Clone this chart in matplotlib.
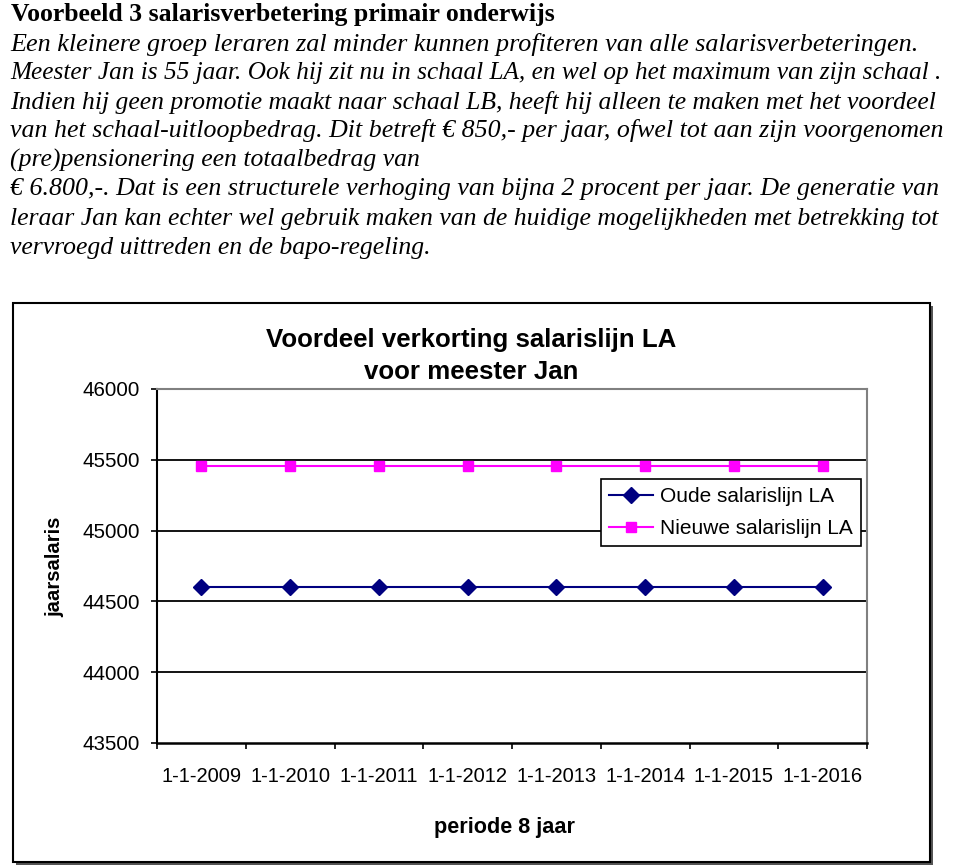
import matplotlib
matplotlib.use("Agg")
import matplotlib.pyplot as plt
from matplotlib.patches import Rectangle

# data
jaren = ['1-1-2009', '1-1-2010', '1-1-2011', '1-1-2012',
         '1-1-2013', '1-1-2014', '1-1-2015', '1-1-2016']
oude_lijn = [44605, 44605, 44605, 44605, 44605, 44605, 44605, 44605]
nieuwe_lijn = [45455, 45455, 45455, 45455, 45455, 45455, 45455, 45455]
y_ticks = [43500, 44000, 44500, 45000, 45500, 46000]

kop = "Voorbeeld 3 salarisverbetering primair onderwijs"
tekst = [
    "Een kleinere groep leraren zal minder kunnen profiteren van alle salarisverbeteringen.",
    "Meester Jan is 55 jaar. Ook hij zit nu in schaal LA, en wel op het maximum van zijn schaal .",
    "Indien hij geen promotie maakt naar schaal LB, heeft hij alleen te maken met het voordeel",
    "van het schaal-uitloopbedrag. Dit betreft \u20ac 850,- per jaar, ofwel tot aan zijn voorgenomen",
    "(pre)pensionering een totaalbedrag van",
    "\u20ac 6.800,-. Dat is een structurele verhoging van bijna 2 procent per jaar. De generatie van",
    "leraar Jan kan echter wel gebruik maken van de huidige mogelijkheden met betrekking tot",
    "vervroegd uittreden en de bapo-regeling.",
]
# right end of each text line in the reference (None = short line)
tekst_eind = [919, 943, 937, 940, None, 940, 940, None]

W, H = 960, 865
plt.rcParams['font.family'] = ['Liberation Sans', 'DejaVu Sans']
fig = plt.figure(figsize=(W / 100, H / 100), dpi=100)
renderer = fig.canvas.get_renderer()


def fy(py):
    return 1 - py / H


def fit(t, target_px):
    # scale font size so the text spans the target width
    w = t.get_window_extent(renderer).width
    t.set_fontsize(t.get_fontsize() * target_px / w)


# text block above the chart
serif = ['Liberation Serif', 'DejaVu Serif']
h = fig.text(11 / W, fy(14), kop, family=serif, weight='bold', fontsize=14,
             ha='left', va='center')
fit(h, 546)
line_y = [44, 73, 102, 131, 160, 189, 219, 248]
sizes = []
body = []
for s, yy, eind in zip(tekst, line_y, tekst_eind):
    t = fig.text(10 / W, fy(yy), s, family=serif, style='italic',
                 fontsize=14, ha='left', va='center')
    if eind is not None:
        fit(t, eind - 10)
        sizes.append(t.get_fontsize())
    body.append(t)
for t, eind in zip(body, tekst_eind):
    if eind is None:
        t.set_fontsize(sum(sizes) / len(sizes))

# chart frame with shadow
fig.patches.append(Rectangle((16 / W, fy(865)), 917 / W, 559 / H,
                             transform=fig.transFigure, facecolor='#555555',
                             edgecolor='none', zorder=-2))
fig.patches.append(Rectangle((13 / W, fy(862)), 917 / W, 559 / H,
                             transform=fig.transFigure, facecolor='white',
                             edgecolor='black', linewidth=1.5, zorder=-1))

ax = fig.add_axes([157 / W, fy(743), 710 / W, 354 / H])
ax.set_facecolor('white')
x = list(range(len(jaren)))
ax.plot(x, oude_lijn, color='#000080', lw=1.5, marker='D', markersize=8.5,
        label='Oude salarislijn LA', zorder=3)
ax.plot(x, nieuwe_lijn, color='#FF00FF', lw=1.5, marker='s', markersize=7.5,
        label='Nieuwe salarislijn LA', zorder=3)

ax.set_xlim(-0.5, len(jaren) - 0.5)
ax.set_ylim(y_ticks[0], y_ticks[-1])
ax.set_yticks(y_ticks)
ax.set_yticklabels([str(v) for v in y_ticks], fontsize=14.8)
ax.set_xticks([i - 0.5 for i in range(len(jaren) + 1)])
ax.set_xticklabels([])
ax.set_xticks(x, minor=True)
ax.set_xticklabels(jaren, minor=True, fontsize=14.5)
ax.tick_params(axis='x', which='major', direction='out', length=4, width=1.2)
ax.tick_params(axis='x', which='minor', length=0, pad=17)
ax.tick_params(axis='y', direction='out', length=4, width=1.2, pad=8)

for v in y_ticks[1:-1]:
    ax.axhline(v, color='black', lw=1.3, zorder=1)
ax.spines['left'].set_color('black')
ax.spines['bottom'].set_color('black')
ax.spines['left'].set_linewidth(1.5)
ax.spines['bottom'].set_linewidth(1.8)
ax.spines['top'].set_color('#808080')
ax.spines['right'].set_color('#808080')
ax.spines['top'].set_linewidth(1.5)
ax.spines['right'].set_linewidth(1.5)

leg = ax.legend(loc='upper right', bbox_to_anchor=(0.9915, 0.7458),
                borderaxespad=0, fontsize=15, fancybox=False, framealpha=1,
                edgecolor='black', handlelength=2.1, handletextpad=0.35,
                borderpad=0.4, labelspacing=0.6)
leg.get_frame().set_linewidth(1.2)
leg.set_zorder(5)

fig.text(471 / W, fy(356), "Voordeel verkorting salarislijn LA\nvoor meester Jan",
         fontsize=18.6, weight='bold', ha='center', va='center', linespacing=1.45)
fig.text(55 / W, fy(567), "jaarsalaris", fontsize=14.6, weight='bold',
         rotation=90, ha='center', va='center')
fig.text(504 / W, fy(828), "periode 8 jaar", fontsize=15.6, weight='bold',
         ha='center', va='center')

fig.savefig("out.png", dpi=100)
